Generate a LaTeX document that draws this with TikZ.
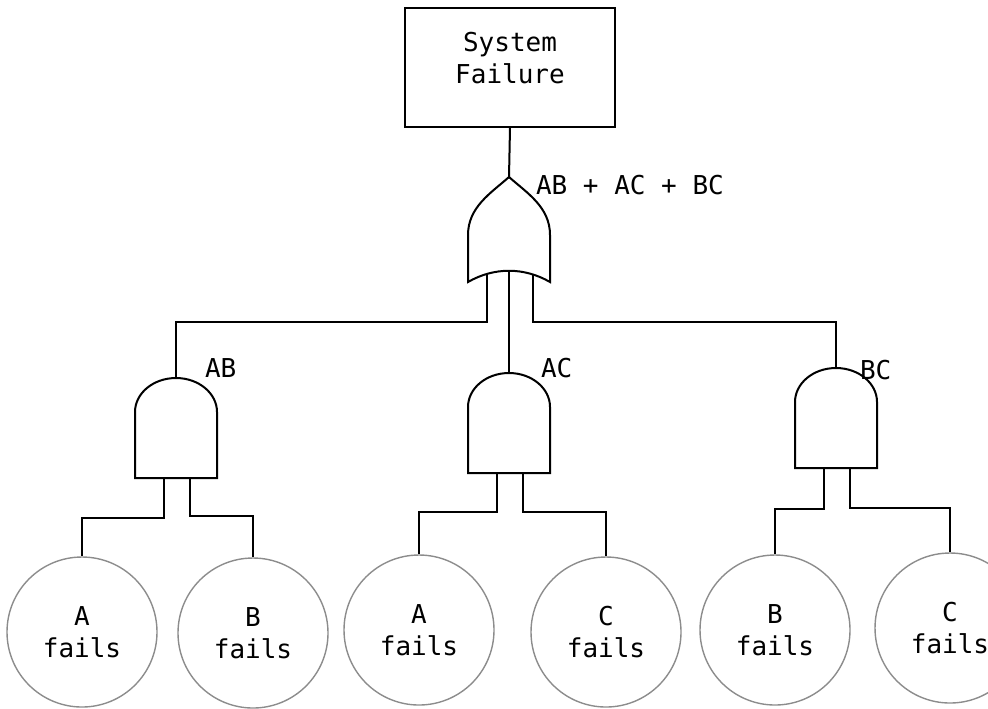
\documentclass[tikz,border=0pt]{standalone}
\usepackage{fontspec}
\setmonofont{DejaVu Sans Mono}
\begin{document}
\begin{tikzpicture}[x=0.5pt,y=0.5pt,line width=1pt,
    lbl/.style={font=\ttfamily\fontsize{13pt}{16pt}\selectfont,inner sep=0pt,align=center},
    event/.style={lbl,circle,draw=black!45,line width=0.7pt,minimum size=75pt},
    andshape/.pic={
      \draw (-41,-100) -- (-41,-34) arc[start angle=180,end angle=0,x radius=20.5pt,y radius=17pt] -- (41,-100) -- cycle;
      \coordinate (-top) at (0,0);
      \coordinate (-inl) at (-12,-100);
      \coordinate (-inr) at (14,-100);
    },
    orshape/.pic={
      \draw (0,0) .. controls (-18,-16) and (-41,-30) .. (-41,-58) -- (-41,-105)
        .. controls (-15,-90) and (15,-90) .. (41,-105) -- (41,-58)
        .. controls (41,-30) and (18,-16) .. (0,0) -- cycle;
      \coordinate (-top) at (0,0);
      \coordinate (-in1) at (-22,-97);
      \coordinate (-in2) at (0,-94);
      \coordinate (-in3) at (24,-97);
    }]
  \clip (0,0) rectangle (988,-708);

  % top event
  \node[draw,minimum width=105pt,minimum height=59.5pt] (sys) at (510,-67) {};
  \node[lbl] (systxt) at (510,-58) {System\\Failure};

  % gates
  \pic (orgate) at (509,-177) {orshape};
  \pic (abgate) at (176,-378) {andshape};
  \pic (acgate) at (509,-373) {andshape};
  \pic (bcgate) at (836,-368) {andshape};

  \node[lbl,anchor=west] (ortxt) at (535,-185) {AB + AC + BC};
  \node[lbl,anchor=west] (abtxt) at (204,-368) {AB};
  \node[lbl,anchor=west] (actxt) at (540,-368) {AC};
  \node[lbl,anchor=west] (bctxt) at (859,-370) {BC};

  % basic events
  \node[event] (a1) at (82,-632) {A\\fails};
  \node[event] (b1) at (253,-633) {B\\fails};
  \node[event] (a2) at (419,-630) {A\\fails};
  \node[event] (c1) at (606,-632) {C\\fails};
  \node[event] (b2) at (775,-630) {B\\fails};
  \node[event] (c2) at (950,-628) {C\\fails};

  % connections
  \draw (sys.south) -- (orgate-top);
  \draw (orgate-in1) -- ++(0,-48) -| (abgate-top);
  \draw (orgate-in2) -- (acgate-top);
  \draw (orgate-in3) -- ++(0,-48) -| (bcgate-top);
  \draw (abgate-inl) -- ++(0,-40) -| (a1);
  \draw (abgate-inr) -- ++(0,-38) -| (b1);
  \draw (acgate-inl) -- ++(0,-39) -| (a2);
  \draw (acgate-inr) -- ++(0,-39) -| (c1);
  \draw (bcgate-inl) -- ++(0,-41) -| (b2);
  \draw (bcgate-inr) -- ++(0,-40) -| (c2);
\end{tikzpicture}
\end{document}
